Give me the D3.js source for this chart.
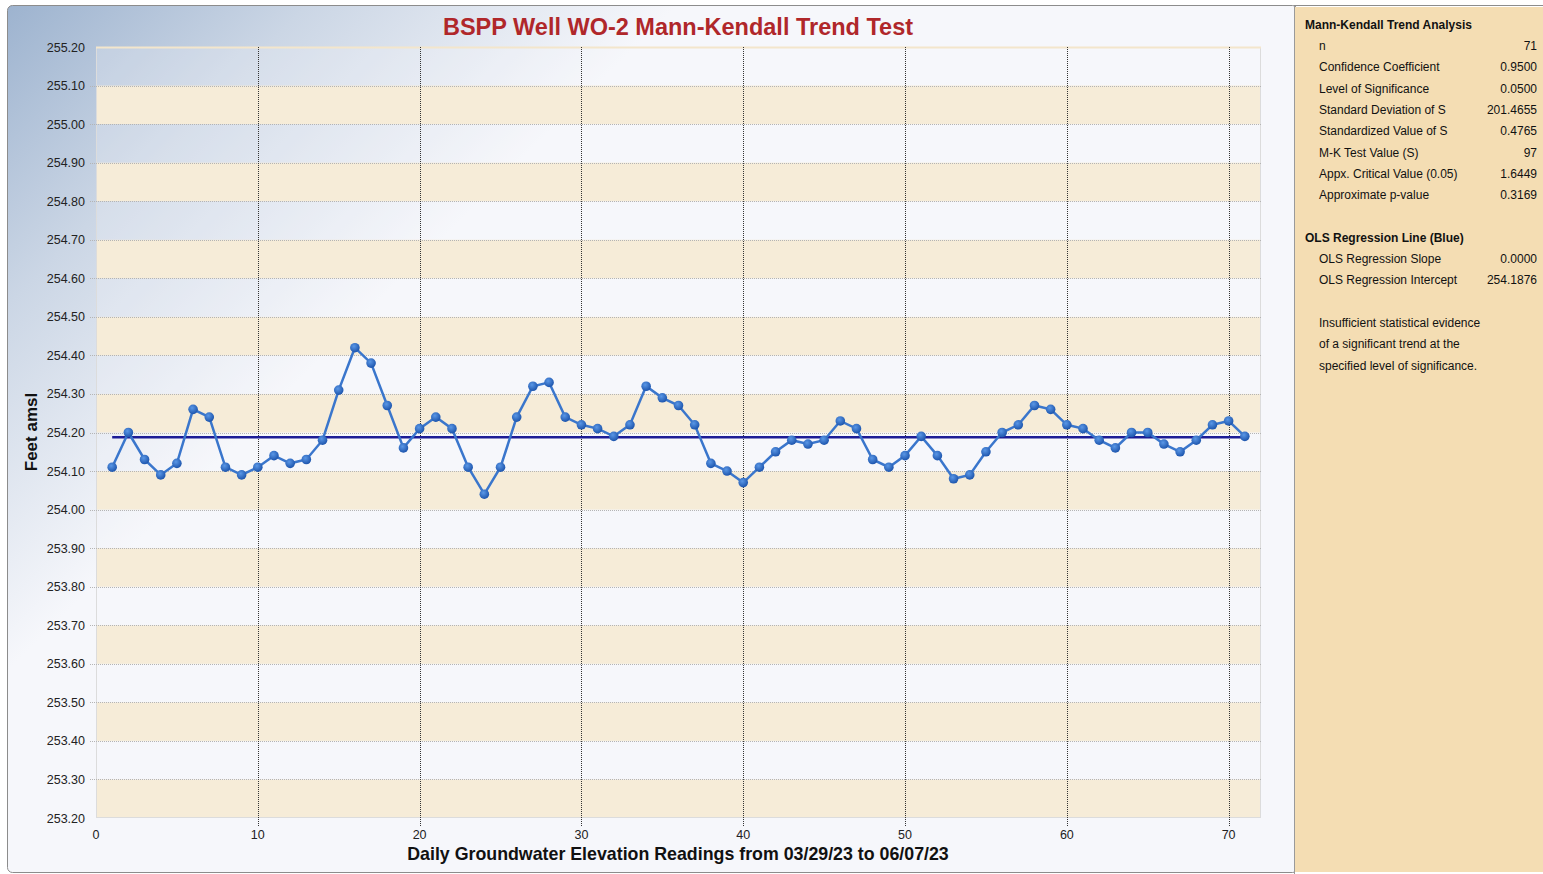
<!DOCTYPE html>
<html>
<head>
<meta charset="utf-8">
<script src="https://cdn.jsdelivr.net/npm/d3@7"></script>
<style>
  body { margin: 0; background: #fff; }
  svg { display: block; }
  text { font-family: "Liberation Sans", Arial, sans-serif; }
</style>
</head>
<body>
<div class="root"></div>
<script>
// daily readings, feet amsl (reading 1..71)
var elevations = [
  254.11, 254.20, 254.13, 254.09, 254.12, 254.26, 254.24, 254.11, 254.09, 254.11,
  254.14, 254.12, 254.13, 254.18, 254.31, 254.42, 254.38, 254.27, 254.16, 254.21,
  254.24, 254.21, 254.11, 254.04, 254.11, 254.24, 254.32, 254.33, 254.24, 254.22,
  254.21, 254.19, 254.22, 254.32, 254.29, 254.27, 254.22, 254.12, 254.10, 254.07,
  254.11, 254.15, 254.18, 254.17, 254.18, 254.23, 254.21, 254.13, 254.11, 254.14,
  254.19, 254.14, 254.08, 254.09, 254.15, 254.20, 254.22, 254.27, 254.26, 254.22,
  254.21, 254.18, 254.16, 254.20, 254.20, 254.17, 254.15, 254.18, 254.22, 254.23,
  254.19
];
var olsSlope = 0.0000;
var olsIntercept = 254.1876;

var xTicks = [0, 10, 20, 30, 40, 50, 60, 70];
var yTicks = [253.2, 253.3, 253.4, 253.5, 253.6, 253.7, 253.8, 253.9, 254.0, 254.1,
              254.2, 254.3, 254.4, 254.5, 254.6, 254.7, 254.8, 254.9, 255.0, 255.1, 255.2];

var mkLabels = ['n', 'Confidence Coefficient', 'Level of Significance', 'Standard Deviation of S',
                'Standardized Value of S', 'M-K Test Value (S)', 'Appx. Critical Value (0.05)', 'Approximate p-value'];
var mkValues = ['71', '0.9500', '0.0500', '201.4655', '0.4765', '97', '1.6449', '0.3169'];
var olsLabels = ['OLS Regression Slope', 'OLS Regression Intercept'];
var olsValues = ['0.0000', '254.1876'];
var noteLines = ['Insufficient statistical evidence', 'of a significant trend at the', 'specified level of significance.'];

var w = 1543, h = 874;
var plot = { left: 96, right: 1261, top: 47, bottom: 818 };

var svg = d3.select('.root').append('svg')
  .attr('width', w)
  .attr('height', h);

var defs = svg.append('defs');
var bg = defs.append('linearGradient')
  .attr('id', 'bg')
  .attr('gradientUnits', 'userSpaceOnUse')
  .attr('x1', 7).attr('y1', 5).attr('x2', 340).attr('y2', 340);
bg.append('stop').attr('offset', '0').attr('stop-color', '#9db3cf');
bg.append('stop').attr('offset', '0.45').attr('stop-color', '#cbd6e5');
bg.append('stop').attr('offset', '1').attr('stop-color', '#f6f7fb');

var dot = defs.append('radialGradient')
  .attr('id', 'dot')
  .attr('cx', 0.4).attr('cy', 0.35).attr('r', 0.65);
dot.append('stop').attr('offset', '0').attr('stop-color', '#5a97e6');
dot.append('stop').attr('offset', '1').attr('stop-color', '#1d55ad');

// chart panel
svg.append('rect')
  .attr('x', 7.5).attr('y', 5.5)
  .attr('width', 1290).attr('height', 867)
  .attr('rx', 5)
  .attr('fill', 'url(#bg)')
  .attr('stroke', '#8c8c8c');

// stats panel
svg.append('rect')
  .attr('x', 1295).attr('y', 7)
  .attr('width', 248).attr('height', 865)
  .attr('fill', '#f4ddb3');
svg.append('line')
  .attr('x1', 1294.5).attr('x2', 1294.5).attr('y1', 5).attr('y2', 874)
  .attr('stroke', '#9a9a9a');
svg.append('line')
  .attr('x1', 1294).attr('x2', 1543).attr('y1', 5.5).attr('y2', 5.5)
  .attr('stroke', '#8c8c8c');

var x = d3.scaleLinear().domain([0, 72]).range([plot.left, plot.right]);
var y = d3.scaleLinear().domain([253.2, 255.2]).range([plot.bottom, plot.top]);

// alternating bands (light bands let the background through)
var bands = yTicks.slice(0, -1);
svg.append('g')
  .selectAll('rect')
  .data(bands)
  .enter().append('rect')
    .attr('x', plot.left)
    .attr('width', plot.right - plot.left)
    .attr('y', function(d) { return y(d + 0.1); })
    .attr('height', function(d) { return y(d) - y(d + 0.1); })
    .attr('fill', function(d, i) { return i % 2 === 0 ? '#f6ecd8' : 'rgba(247,248,252,0.25)'; });

// plot border
svg.append('rect')
  .attr('x', plot.left + 0.5).attr('y', plot.top + 0.5)
  .attr('width', plot.right - plot.left - 1).attr('height', plot.bottom - plot.top - 1)
  .attr('fill', 'none')
  .attr('stroke', '#dcdcdc');
svg.append('line')
  .attr('x1', plot.left).attr('x2', plot.right)
  .attr('y1', plot.top + 0.5).attr('y2', plot.top + 0.5)
  .attr('stroke', '#f3e6cc').attr('stroke-width', 2);

// horizontal grid
svg.append('g')
  .selectAll('line')
  .data(yTicks.slice(1, -1))
  .enter().append('line')
    .attr('x1', plot.left - 6).attr('x2', plot.right)
    .attr('y1', function(d) { return Math.round(y(d)) + 0.5; })
    .attr('y2', function(d) { return Math.round(y(d)) + 0.5; })
    .attr('stroke', '#b4b4b4')
    .attr('stroke-dasharray', '1,1');

// vertical grid
svg.append('g')
  .selectAll('line')
  .data(xTicks.slice(1))
  .enter().append('line')
    .attr('x1', function(d) { return Math.round(x(d)) + 0.5; })
    .attr('x2', function(d) { return Math.round(x(d)) + 0.5; })
    .attr('y1', plot.top).attr('y2', plot.bottom + 8)
    .attr('stroke', '#333')
    .attr('stroke-dasharray', '1,1');

// axis labels
svg.append('g')
  .selectAll('text')
  .data(yTicks)
  .enter().append('text')
    .attr('x', 85)
    .attr('y', function(d) { return y(d) + 4.5; })
    .attr('text-anchor', 'end')
    .style('font-size', '12.5px')
    .style('font-family', '"Liberation Sans Narrow", "Liberation Sans", Arial, sans-serif')
    .attr('fill', '#222')
    .text(function(d) { return d.toFixed(2); });

svg.append('g')
  .selectAll('text')
  .data(xTicks)
  .enter().append('text')
    .attr('x', function(d) { return x(d); })
    .attr('y', 839)
    .attr('text-anchor', 'middle')
    .style('font-size', '12.5px')
    .style('font-family', '"Liberation Sans Narrow", "Liberation Sans", Arial, sans-serif')
    .attr('fill', '#222')
    .text(function(d) { return d; });

svg.append('text')
  .attr('x', 678).attr('y', 35)
  .attr('text-anchor', 'middle')
  .style('font-size', '23.5px')
  .style('font-weight', 'bold')
  .attr('fill', '#b0272a')
  .text('BSPP Well WO-2 Mann-Kendall Trend Test');

svg.append('text')
  .attr('x', 678).attr('y', 860)
  .attr('text-anchor', 'middle')
  .style('font-size', '17.8px')
  .style('font-weight', 'bold')
  .attr('fill', '#111')
  .text('Daily Groundwater Elevation Readings from 03/29/23 to 06/07/23');

svg.append('text')
  .attr('transform', 'translate(37,432) rotate(-90)')
  .attr('text-anchor', 'middle')
  .style('font-size', '17px')
  .style('font-weight', 'bold')
  .attr('fill', '#111')
  .text('Feet amsl');

// OLS regression line
svg.append('line')
  .attr('x1', x(1)).attr('x2', x(elevations.length))
  .attr('y1', y(olsIntercept + olsSlope * 1))
  .attr('y2', y(olsIntercept + olsSlope * elevations.length))
  .attr('stroke', '#1c1c96')
  .attr('stroke-width', 2.5);

// data series
var line = d3.line()
  .x(function(d, i) { return x(i + 1); })
  .y(function(d) { return y(d); });

svg.append('path')
  .datum(elevations)
  .attr('d', line)
  .attr('fill', 'none')
  .attr('stroke', '#3a76cc')
  .attr('stroke-width', 2.5);

svg.append('g')
  .selectAll('circle')
  .data(elevations)
  .enter().append('circle')
    .attr('cx', function(d, i) { return x(i + 1); })
    .attr('cy', function(d) { return y(d); })
    .attr('r', 4.8)
    .attr('fill', 'url(#dot)');

// stats text
var stats = svg.append('g')
  .style('font-family', '"DejaVu Sans Condensed", "Liberation Sans Narrow", Arial, sans-serif')
  .style('font-size', '12px')
  .attr('fill', '#111');

stats.append('text')
  .attr('x', 1305).attr('y', 29)
  .style('font-weight', 'bold')
  .text('Mann-Kendall Trend Analysis');

mkLabels.forEach(function(lab, i) {
  stats.append('text').attr('x', 1319).attr('y', 50 + i * 21.3).text(lab);
  stats.append('text').attr('x', 1537).attr('y', 50 + i * 21.3)
    .attr('text-anchor', 'end').text(mkValues[i]);
});

stats.append('text')
  .attr('x', 1305).attr('y', 242)
  .style('font-weight', 'bold')
  .text('OLS Regression Line (Blue)');

olsLabels.forEach(function(lab, i) {
  stats.append('text').attr('x', 1319).attr('y', 263 + i * 21.3).text(lab);
  stats.append('text').attr('x', 1537).attr('y', 263 + i * 21.3)
    .attr('text-anchor', 'end').text(olsValues[i]);
});

noteLines.forEach(function(t, i) {
  stats.append('text').attr('x', 1319).attr('y', 327 + i * 21.3).text(t);
});
</script>
</body>
</html>
